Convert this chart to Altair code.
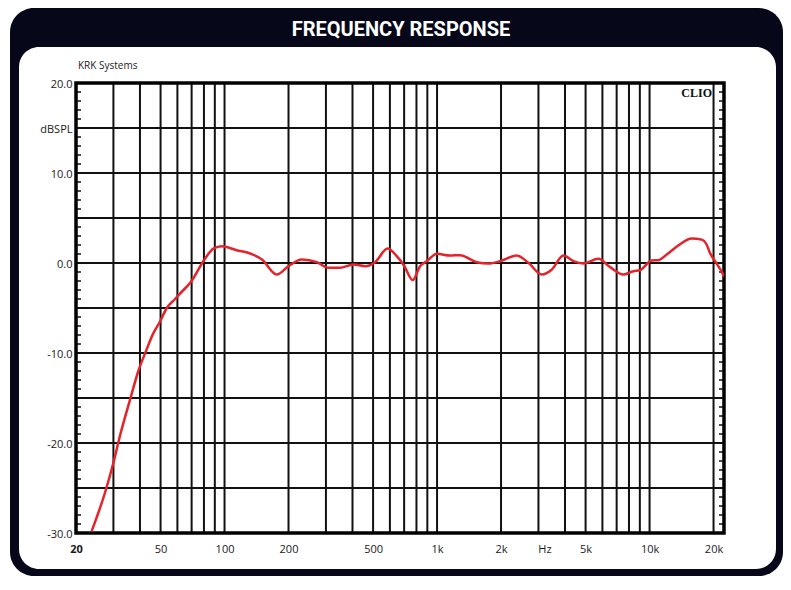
import altair as alt
import pandas as pd

# ---- data ----
freq = [23.7, 27.4, 30, 32.2, 35.9, 39.3, 43, 46, 49.7, 53.5, 58.5, 61.7, 70, 79.5, 88.6, 97,
        114, 132, 150, 176, 200, 231, 272, 308, 349, 404, 458, 511, 585, 646, 700, 768, 832,
        894, 1000, 1150, 1282, 1538, 1744, 1978, 2370, 2690, 3110, 3470, 3930, 4380, 4880,
        5740, 6520, 7530, 8390, 9020, 10240, 11000, 12040, 13640, 15780, 17600, 18600,
        19260, 20330, 21980, 22400]
spl = [-29.8, -25.5, -22.2, -19.2, -15.2, -12.0, -9.6, -7.9, -6.5, -5.0, -4.0, -3.4, -2.0, 0.2,
       1.6, 1.87, 1.42, 1.06, 0.39, -1.28, -0.35, 0.39, 0.09, -0.54, -0.54, -0.17, -0.35, 0.09,
       1.6, 0.76, -0.3, -1.9, -0.35, 0.2, 1.02, 0.83, 0.87, 0.09, -0.06, 0.2, 0.83, 0.02,
       -1.28, -0.72, 0.83, 0.2, -0.06, 0.46, -0.46, -1.28, -0.91, -0.8, 0.28, 0.31, 0.94, 1.94,
       2.72, 2.6, 2.0, 1.1, 0.2, -1.1, -1.5]

vgrid_freqs = [30, 40, 50, 60, 70, 80, 90, 100, 200, 300, 400, 500, 600, 700, 800, 900,
               1000, 2000, 3000, 4000, 5000, 6000, 7000, 8000, 9000, 10000, 20000]
hgrid_db = [15, 10, 5, 0, -5, -10, -15, -20, -25]
minor_db = [d for d in range(-29, 20)]
x_label_values = [20, 50, 100, 200, 500, 1000, 2000, 3200, 5000, 10000, 20000]
y_label_values = [20, 15, 10, 0, -10, -20, -30]

title_text = "FREQUENCY RESPONSE"
brand_text = "KRK Systems"
clio_text = "CLIO"

W, H = 648, 450
DARK = "#07071a"
RED = "#e3242b"
GRID = "#111111"

xs = alt.Scale(type="log", domain=[20, 22400], nice=False)
ys = alt.Scale(domain=[-30, 20], nice=False, zero=False)

x_axis = alt.Axis(
    values=x_label_values,
    labelExpr="datum.value == 3200 ? 'Hz' : (datum.value >= 1000 ? (datum.value / 1000) + 'k' : datum.value + '')",
    grid=False, ticks=False, domain=False, labelPadding=10, labelFontSize=11,
    labelFont="Open Sans", labelColor="#1a1a1a", labelFlush=False, labelOverlap=False,
    labelFontWeight=alt.condition("datum.value == 20", alt.value("bold"), alt.value("normal")),
    zindex=2)
y_axis = alt.Axis(
    values=y_label_values,
    labelExpr="datum.value == 15 ? 'dBSPL' : datum.value + '.0'",
    grid=False, ticks=False, domain=False, labelPadding=4, labelFontSize=11,
    labelFont="Open Sans", labelColor="#1a1a1a", labelFlush=False, labelOverlap=False,
    labelOffset=1.5, zindex=2)

one = pd.DataFrame({"k": [0]})

bg = alt.Chart(one).mark_rect(color=DARK, cornerRadius=24).encode(
    x=alt.value(-66), x2=alt.value(707), y=alt.value(-75), y2=alt.value(493))
panel = alt.Chart(one).mark_rect(color="white", cornerRadius=20).encode(
    x=alt.value(-57), x2=alt.value(700), y=alt.value(-36), y2=alt.value(486))

vgrid = alt.Chart(pd.DataFrame({"f": vgrid_freqs})).mark_rule(color=GRID, strokeWidth=2).encode(
    x=alt.X("f:Q", scale=xs, title=None, axis=x_axis), y=alt.value(0), y2=alt.value(H))
hgrid = alt.Chart(pd.DataFrame({"db": hgrid_db})).mark_rule(color=GRID, strokeWidth=2).encode(
    y=alt.Y("db:Q", scale=ys, title=None, axis=y_axis), x=alt.value(0), x2=alt.value(W))
ticks_l = alt.Chart(pd.DataFrame({"db": minor_db})).mark_rule(color=GRID, strokeWidth=1.5).encode(
    y=alt.Y("db:Q", scale=ys, title=None, axis=y_axis), x=alt.value(0), x2=alt.value(5))
ticks_r = alt.Chart(pd.DataFrame({"db": minor_db})).mark_rule(color=GRID, strokeWidth=1.5).encode(
    y=alt.Y("db:Q", scale=ys, title=None, axis=y_axis), x=alt.value(W - 5), x2=alt.value(W))
frame = alt.Chart(one).mark_rect(fillOpacity=0, stroke="#000000", strokeWidth=3.5).encode(
    x=alt.value(0), x2=alt.value(W), y=alt.value(0), y2=alt.value(H))

curve = alt.Chart(pd.DataFrame({"f": freq, "db": spl})).mark_line(
    color=RED, strokeWidth=2.5, interpolate="monotone", clip=True).encode(
    x=alt.X("f:Q", scale=xs, title=None, axis=x_axis),
    y=alt.Y("db:Q", scale=ys, title=None, axis=y_axis),
    order="f:Q")

title = alt.Chart(pd.DataFrame({"t": [title_text]})).mark_text(
    color="white", fontSize=20, fontWeight="bold",
    font="Roboto, sans-serif",
    align="center", baseline="middle").encode(
    x=alt.value(325), y=alt.value(-53), text="t:N")
brand = alt.Chart(pd.DataFrame({"t": [brand_text]})).mark_text(
    color="#1a1a1a", fontSize=10, font="Open Sans", align="left", baseline="middle").encode(
    x=alt.value(2), y=alt.value(-17), text="t:N")
clio = alt.Chart(pd.DataFrame({"t": [clio_text]})).mark_text(
    color="#111111", fontSize=12, fontWeight="bold", font="Liberation Serif, DejaVu Serif, serif",
    align="right", baseline="middle").encode(
    x=alt.value(636), y=alt.value(10), text="t:N")

chart = alt.layer(bg, panel, vgrid, hgrid, ticks_l, ticks_r, frame, curve, title, brand, clio).properties(
    width=W, height=H,
    autosize=alt.AutoSizeParams(type="none"),
    padding={"left": 68, "top": 75, "right": 59, "bottom": 43},
    background="white",
).configure_view(strokeWidth=0)

chart.save("out.html", embed_options={"renderer": "svg", "actions": False})
